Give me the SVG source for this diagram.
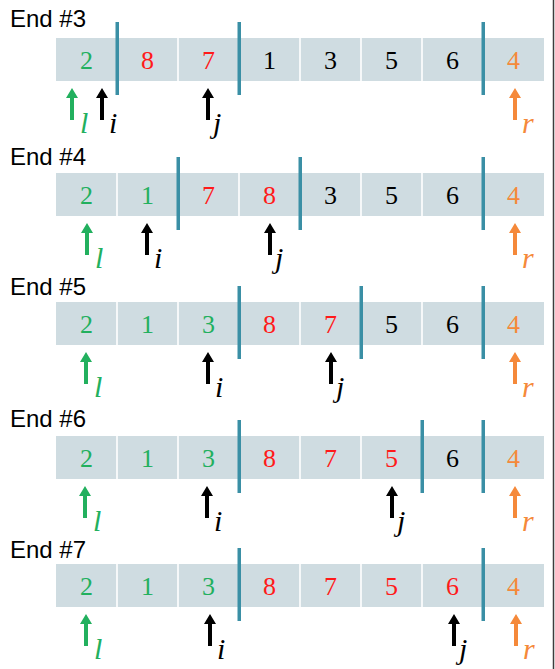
<svg xmlns="http://www.w3.org/2000/svg" width="555" height="669" viewBox="0 0 555 669">
<style>
.title{font-family:"Liberation Sans",Arial,sans-serif;font-size:24px;fill:#000}
.cell{fill:#cfdce1}
.gap{stroke:#ffffff;stroke-width:1.6}
.sep{fill:#3a8fa5}
.num{font-family:"Liberation Serif","Times New Roman",serif;font-size:26px;text-anchor:middle}
.lab{font-family:"Liberation Serif","Times New Roman",serif;font-style:italic;font-size:30px}
.g{fill:#22b05e}.r{fill:#ff1a1a}.k{fill:#000}.o{fill:#f5893a}
</style>
<defs>
<path id="arw" d="M0,0 L6,10 L2,10 L2,32 L-2,32 L-2,10 L-6,10 Z"/>
<g id="rowbg">
<rect class="cell" x="56" y="0" width="488" height="43"/>
<line class="gap" x1="117" y1="0" x2="117" y2="43"/>
<line class="gap" x1="178" y1="0" x2="178" y2="43"/>
<line class="gap" x1="239" y1="0" x2="239" y2="43"/>
<line class="gap" x1="300" y1="0" x2="300" y2="43"/>
<line class="gap" x1="361" y1="0" x2="361" y2="43"/>
<line class="gap" x1="422" y1="0" x2="422" y2="43"/>
<line class="gap" x1="483" y1="0" x2="483" y2="43"/>
</g>
</defs>
<rect x="0" y="0" width="555" height="669" fill="#fff"/>
<line x1="553.5" y1="0" x2="553.5" y2="669" stroke="#3c3c3c" stroke-width="1.5"/>

<g id="row3" transform="translate(0,38)">
<text class="title" x="10" y="-11">End #3</text>
<use href="#rowbg"/>
<text class="num g" x="86.5" y="31">2</text>
<text class="num r" x="147.5" y="31">8</text>
<text class="num r" x="208.5" y="31">7</text>
<text class="num k" x="269.5" y="31">1</text>
<text class="num k" x="330.5" y="31">3</text>
<text class="num k" x="391.5" y="31">5</text>
<text class="num k" x="452.5" y="31">6</text>
<text class="num o" x="513.5" y="31">4</text>
<rect class="sep" x="115.5" y="-16" width="3.5" height="73"/>
<rect class="sep" x="237.5" y="-16" width="3.5" height="73"/>
<rect class="sep" x="481.5" y="-16" width="3.5" height="73"/>
</g>

<g id="row4" transform="translate(0,173)">
<text class="title" x="10" y="-8">End #4</text>
<use href="#rowbg"/>
<text class="num g" x="86.5" y="31">2</text>
<text class="num g" x="147.5" y="31">1</text>
<text class="num r" x="208.5" y="31">7</text>
<text class="num r" x="269.5" y="31">8</text>
<text class="num k" x="330.5" y="31">3</text>
<text class="num k" x="391.5" y="31">5</text>
<text class="num k" x="452.5" y="31">6</text>
<text class="num o" x="513.5" y="31">4</text>
<rect class="sep" x="176.5" y="-16" width="3.5" height="73"/>
<rect class="sep" x="298.5" y="-16" width="3.5" height="73"/>
<rect class="sep" x="481.5" y="-16" width="3.5" height="73"/>
</g>

<g id="row5" transform="translate(0,302)">
<text class="title" x="10" y="-7">End #5</text>
<use href="#rowbg"/>
<text class="num g" x="86.5" y="31">2</text>
<text class="num g" x="147.5" y="31">1</text>
<text class="num g" x="208.5" y="31">3</text>
<text class="num r" x="269.5" y="31">8</text>
<text class="num r" x="330.5" y="31">7</text>
<text class="num k" x="391.5" y="31">5</text>
<text class="num k" x="452.5" y="31">6</text>
<text class="num o" x="513.5" y="31">4</text>
<rect class="sep" x="237.5" y="-16" width="3.5" height="73"/>
<rect class="sep" x="359.5" y="-16" width="3.5" height="73"/>
<rect class="sep" x="481.5" y="-16" width="3.5" height="73"/>
</g>

<g id="row6" transform="translate(0,436)">
<text class="title" x="10" y="-9">End #6</text>
<use href="#rowbg"/>
<text class="num g" x="86.5" y="31">2</text>
<text class="num g" x="147.5" y="31">1</text>
<text class="num g" x="208.5" y="31">3</text>
<text class="num r" x="269.5" y="31">8</text>
<text class="num r" x="330.5" y="31">7</text>
<text class="num r" x="391.5" y="31">5</text>
<text class="num k" x="452.5" y="31">6</text>
<text class="num o" x="513.5" y="31">4</text>
<rect class="sep" x="237.5" y="-16" width="3.5" height="73"/>
<rect class="sep" x="420.5" y="-16" width="3.5" height="73"/>
<rect class="sep" x="481.5" y="-16" width="3.5" height="73"/>
</g>

<g id="row7" transform="translate(0,564)">
<text class="title" x="10" y="-6">End #7</text>
<use href="#rowbg"/>
<text class="num g" x="86.5" y="31">2</text>
<text class="num g" x="147.5" y="31">1</text>
<text class="num g" x="208.5" y="31">3</text>
<text class="num r" x="269.5" y="31">8</text>
<text class="num r" x="330.5" y="31">7</text>
<text class="num r" x="391.5" y="31">5</text>
<text class="num r" x="452.5" y="31">6</text>
<text class="num o" x="513.5" y="31">4</text>
<rect class="sep" x="237.5" y="-16" width="3.5" height="73"/>
<rect class="sep" x="481.5" y="-16" width="3.5" height="73"/>
</g>

<g id="pointers">
<g transform="translate(0,88)">
<use href="#arw" x="72" class="g"/><text class="lab g" x="80" y="45">l</text>
<use href="#arw" x="102" class="k"/><text class="lab k" x="109" y="45">i</text>
<use href="#arw" x="208" class="k"/><text class="lab k" x="213" y="45">j</text>
<use href="#arw" x="515" class="o"/><text class="lab o" x="522" y="45">r</text>
</g>
<g transform="translate(0,223)">
<use href="#arw" x="87" class="g"/><text class="lab g" x="95" y="45">l</text>
<use href="#arw" x="147" class="k"/><text class="lab k" x="154" y="45">i</text>
<use href="#arw" x="270" class="k"/><text class="lab k" x="275" y="45">j</text>
<use href="#arw" x="515" class="o"/><text class="lab o" x="522" y="45">r</text>
</g>
<g transform="translate(0,352)">
<use href="#arw" x="86" class="g"/><text class="lab g" x="94" y="45">l</text>
<use href="#arw" x="208" class="k"/><text class="lab k" x="215" y="45">i</text>
<use href="#arw" x="331" class="k"/><text class="lab k" x="336" y="45">j</text>
<use href="#arw" x="515" class="o"/><text class="lab o" x="522" y="45">r</text>
</g>
<g transform="translate(0,486)">
<use href="#arw" x="85" class="g"/><text class="lab g" x="93" y="45">l</text>
<use href="#arw" x="207" class="k"/><text class="lab k" x="214" y="45">i</text>
<use href="#arw" x="392" class="k"/><text class="lab k" x="397" y="45">j</text>
<use href="#arw" x="515" class="o"/><text class="lab o" x="522" y="45">r</text>
</g>
<g transform="translate(0,614)">
<use href="#arw" x="86" class="g"/><text class="lab g" x="94" y="45">l</text>
<use href="#arw" x="210" class="k"/><text class="lab k" x="217" y="45">i</text>
<use href="#arw" x="454" class="k"/><text class="lab k" x="459" y="45">j</text>
<use href="#arw" x="516" class="o"/><text class="lab o" x="523" y="45">r</text>
</g>
</g>
</svg>
